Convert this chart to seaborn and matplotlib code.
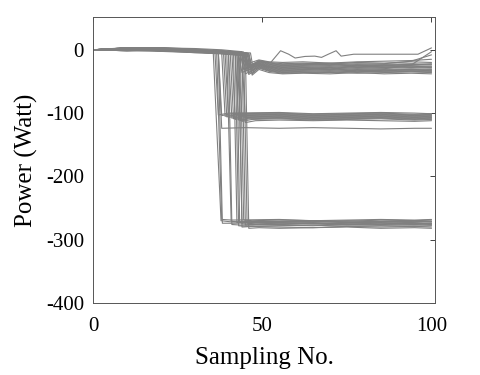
import numpy as np
import pandas as pd
import matplotlib
matplotlib.use("Agg")
import matplotlib.pyplot as plt
import seaborn as sns

# ---------------- data ----------------
# Group settling near -20 .. -40 W : (x vertices, y vertices)
group_small = [
    ([0, 10, 20, 30, 38, 44, 45, 49, 52, 56, 62, 70, 78, 86, 94, 100],
     [0, 3.5, 3, 2, 0, -3, -23, -16, -19, -20, -19, -21, -19, -18, -17, -15]),
    ([0, 10, 20, 30, 38, 45, 46, 49, 52, 56, 62, 70, 78, 86, 94, 100],
     [0, 2, 3.5, 1, -2, -5, -26, -17, -20, -22, -21, -22, -20, -21, -19, -20]),
    ([0, 10, 20, 30, 38, 44.5, 45.5, 49, 52, 56, 62, 70, 78, 86, 94, 100],
     [0, 1, 0, -1.5, -2.5, -4, -27, -18, -21, -23, -22, -21, -23, -22, -18, -8]),
    ([0, 10, 20, 30, 38, 46, 47, 49, 52, 56, 62, 70, 78, 86, 94, 100],
     [0, 2.5, 1.5, -2.5, -4, -6, -29, -18, -22, -24, -23, -24, -22, -23, -22, -23]),
    ([0, 10, 20, 30, 38, 45.5, 46.5, 49, 52, 56, 62, 70, 78, 86, 94, 100],
     [0, 1.5, 2.5, 0, -1.5, -5, -30, -19, -23, -25, -24, -23, -25, -24, -23, -24]),
    ([0, 10, 20, 30, 38, 43.5, 44.5, 49, 52, 56, 62, 70, 78, 86, 94, 100],
     [0, -1.5, 1, -2.5, -5, -7, -31, -20, -24, -26, -25, -26, -24, -25, -24, -22]),
    ([0, 10, 20, 30, 38, 44, 45, 49, 52, 56, 62, 70, 78, 86, 94, 100],
     [0, 3, 0.5, -2, -3, -5, -31, -21, -25, -27, -26, -25, -27, -26, -25, -26]),
    ([0, 10, 20, 30, 38, 45, 46, 49, 52, 56, 62, 70, 78, 86, 94, 100],
     [0, 0, 1.5, -1, -3.5, -6, -32, -22, -26, -28, -27, -28, -26, -27, -26, -27]),
    ([0, 10, 20, 30, 38, 46, 47, 49, 52, 56, 62, 70, 78, 86, 94, 100],
     [0, 1.5, -1.5, -3.5, -5, -8, -33, -22, -27, -29, -28, -27, -29, -28, -27, -28]),
    ([0, 10, 20, 30, 38, 44.5, 45.5, 49, 52, 56, 62, 70, 78, 86, 94, 100],
     [0, 2.5, 2.5, 0.5, -2, -4, -34, -23, -27, -30, -29, -30, -28, -29, -28, -29]),
    ([0, 10, 20, 30, 38, 45.5, 46.5, 49, 52, 56, 62, 70, 78, 86, 94, 100],
     [0, 0.5, -1.5, -2.5, -4.5, -6, -35, -24, -28, -31, -30, -29, -31, -30, -24, -3]),
    ([0, 10, 20, 30, 38, 43, 44, 49, 52, 56, 62, 70, 78, 86, 94, 100],
     [0, 1.5, 0, -3.5, -6, -8, -36, -24, -29, -32, -31, -32, -30, -31, -30, -31]),
    ([0, 10, 20, 30, 38, 46.5, 47.5, 49, 52, 56, 62, 70, 78, 86, 94, 100],
     [0, 2.5, 1.5, -1, -2.5, -5, -36, -25, -30, -33, -32, -31, -33, -32, -31, -32]),
    ([0, 10, 20, 30, 38, 45, 46, 49, 52, 56, 62, 70, 78, 86, 94, 100],
     [0, -1.5, -2.5, -4.5, -5.5, -9, -37, -26, -31, -34, -33, -34, -32, -33, -32, -33]),
    ([0, 10, 20, 30, 38, 44, 45, 49, 52, 56, 62, 70, 78, 86, 94, 100],
     [0, 1.5, 0.5, -2.5, -4.5, -7, -38, -27, -32, -35, -34, -33, -35, -34, -33, -34]),
    ([0, 10, 20, 30, 38, 46, 47, 49, 52, 56, 62, 70, 78, 86, 94, 100],
     [0, 0.5, 1.5, -2, -3.5, -6, -38, -28, -33, -36, -35, -36, -34, -35, -34, -35]),
    ([0, 10, 20, 30, 38, 45, 46, 49, 52, 56, 62, 70, 78, 86, 94, 100],
     [0, 3, 0, -3.5, -4.5, -7, -39, -29, -34, -37, -36, -35, -37, -36, -35, -36]),
    ([0, 10, 20, 30, 38, 46, 47, 49, 52, 56, 62, 70, 78, 86, 94, 100],
     [0, 1.5, -1.5, -4.5, -6.5, -10, -40, -31, -36, -38, -37, -38, -36, -38, -37, -38]),
]

# The single wandering line that climbs back towards 0 after sample 53
outlier_x = [0, 10, 20, 30, 38, 45, 46, 49, 52.5, 55.4, 57.8, 59.7, 62.6, 65.5,
             67.5, 69.5, 71.8, 73.3, 77, 85, 96, 100]
outlier_y = [0, 2, 1, -1.5, -3, -5, -27, -19, -20, -1.5, -7, -13, -10.5, -10,
             -12, -7, -1.5, -10, -7, -7, -7, 3]

# Group settling near -100 .. -125 W
group_mid = [
    ([0, 10, 20, 30, 36, 37, 40, 55, 65, 75, 85, 95, 100],
     [0, 1.5, 0.5, -2, -4, -103, -100, -99, -101, -100, -99, -100, -101]),
    ([0, 10, 20, 30, 37, 38, 41, 55, 65, 75, 85, 95, 100],
     [0, 3, 1.5, -1, -3, -104, -101, -100, -102, -101, -100, -102, -101]),
    ([0, 10, 20, 30, 38, 39, 42, 55, 65, 75, 85, 95, 100],
     [0, 0, -1.5, -2.5, -5, -105, -102, -101, -103, -102, -101, -103, -102]),
    ([0, 10, 20, 30, 38.5, 39.5, 42, 55, 65, 75, 85, 95, 100],
     [0, 2.5, 2.5, 0.5, -2, -106, -103, -102, -104, -103, -102, -104, -103]),
    ([0, 10, 20, 30, 39, 40, 43, 55, 65, 75, 85, 95, 100],
     [0, 1.5, 0, -3.5, -5, -107, -104, -103, -105, -104, -103, -105, -104]),
    ([0, 10, 20, 30, 40, 41, 44, 55, 65, 75, 85, 95, 100],
     [0, 0, 1.5, -1, -6, -108, -105, -104, -106, -105, -104, -106, -105]),
    ([0, 10, 20, 30, 40.5, 41.5, 44, 55, 65, 75, 85, 95, 100],
     [0, 3, 0.5, -2, -4, -109, -106, -105, -107, -106, -105, -107, -106]),
    ([0, 10, 20, 30, 41, 42, 45, 55, 65, 75, 85, 95, 100],
     [0, 1.5, 1.5, -2.5, -3.5, -110, -107, -106, -108, -107, -106, -108, -107]),
    ([0, 10, 20, 30, 42, 43, 46, 55, 65, 75, 85, 95, 100],
     [0, -1.5, 0, -3.5, -7, -111, -108, -107, -109, -108, -107, -109, -108]),
    ([0, 10, 20, 30, 42.5, 43.5, 46, 55, 65, 75, 85, 95, 100],
     [0, 2.5, 1.5, 0, -4, -112, -109, -108, -110, -109, -108, -110, -109]),
    ([0, 10, 20, 30, 43, 44, 47, 55, 65, 75, 85, 95, 100],
     [0, 1.5, -1.5, -2.5, -6, -113, -110, -109, -111, -110, -109, -111, -110]),
    ([0, 10, 20, 30, 44, 45, 48, 55, 65, 75, 85, 95, 100],
     [0, 0, 0.5, -3.5, -7, -115, -112, -111, -112, -111, -112, -113, -112]),
    ([0, 10, 20, 30, 37, 38, 45, 55, 65, 75, 85, 95, 100],
     [0, 1.5, 0, -2, -4, -124, -123, -124, -123, -124, -125, -124, -124]),
]

# Group settling near -270 .. -282 W
group_large = [
    ([0, 10, 20, 30, 35.5, 37.8, 41, 55, 65, 75, 85, 95, 100],
     [0, 2.5, 1.5, -2, -4, -270, -272, -271, -272, -270, -271, -272, -271]),
    ([0, 10, 20, 30, 36.5, 38, 41, 55, 65, 75, 85, 95, 100],
     [0, 1.5, 3, 0.5, -3, -268, -269, -268, -270, -269, -268, -269, -268]),
    ([0, 10, 20, 30, 37, 38.2, 41, 55, 65, 75, 85, 95, 100],
     [0, 0, -1.5, -2.5, -5, -274, -274, -273, -275, -274, -273, -275, -274]),
    ([0, 10, 20, 30, 39.5, 40.8, 43, 55, 65, 75, 85, 95, 100],
     [0, 3, 0.5, -1, -4, -271, -272, -271, -270, -272, -271, -270, -271]),
    ([0, 10, 20, 30, 40, 41, 44, 55, 65, 75, 85, 95, 100],
     [0, 1.5, 1.5, -3.5, -6, -276, -277, -276, -275, -277, -276, -277, -276]),
    ([0, 10, 20, 30, 41.5, 42.5, 45, 55, 65, 75, 85, 95, 100],
     [0, -1.5, 0, -2.5, -4, -273, -272, -273, -274, -273, -272, -273, -274]),
    ([0, 10, 20, 30, 42, 43, 46, 55, 65, 75, 85, 95, 100],
     [0, 3, 1.5, 0, -3, -278, -279, -278, -277, -279, -278, -279, -278]),
    ([0, 10, 20, 30, 42.5, 43.3, 46, 55, 65, 75, 85, 95, 100],
     [0, 1.5, 0, -3.5, -5, -272, -273, -272, -271, -273, -272, -271, -272]),
    ([0, 10, 20, 30, 43, 44, 47, 55, 65, 75, 85, 95, 100],
     [0, 0, 2.5, -1, -4, -275, -276, -275, -274, -276, -275, -274, -275]),
    ([0, 10, 20, 30, 43, 44, 47, 55, 65, 75, 85, 95, 100],
     [0, 2.5, 1.5, -2.5, -6, -280, -279, -280, -281, -279, -280, -279, -280]),
    ([0, 10, 20, 30, 43.5, 44.5, 47, 55, 65, 75, 85, 95, 100],
     [0, 1.5, -1.5, -2.5, -4, -269, -270, -269, -270, -271, -269, -270, -269]),
    ([0, 10, 20, 30, 44, 45, 48, 55, 65, 75, 85, 95, 100],
     [0, 0, 1.5, -1, -5, -277, -276, -277, -278, -276, -277, -276, -277]),
    ([0, 10, 20, 30, 44.5, 45.5, 48, 55, 65, 75, 85, 95, 100],
     [0, 2.5, 0, -3.5, -4, -274, -275, -274, -273, -275, -274, -275, -274]),
    ([0, 10, 20, 30, 45, 46, 49, 55, 65, 75, 85, 95, 100],
     [0, 1.5, 1.5, -2.5, -7, -282, -281, -282, -281, -280, -282, -281, -282]),
]

x_ticks = [0, 50, 100]
y_ticks = [-400, -300, -200, -100, 0]

# ---------------- build long table ----------------
rows = []
line_id = 0
for group in (group_small, group_mid, group_large):
    for xs, ys in group:
        for xv, yv in zip(xs, ys):
            rows.append((line_id, xv, yv))
        line_id += 1
for xv, yv in zip(outlier_x, outlier_y):
    rows.append((line_id, xv, yv))
df = pd.DataFrame(rows, columns=["line", "x", "y"])

# ---------------- plot ----------------
sns.set_theme(style="white")
plt.rcParams["font.family"] = ["Liberation Serif", "DejaVu Serif"]
plt.rcParams["axes.unicode_minus"] = False

fig = plt.figure(figsize=(4.8, 3.75), dpi=100)
ax = fig.add_axes([0.194, 0.192, 0.712, 0.763])

sns.lineplot(data=df, x="x", y="y", units="line", estimator=None, sort=False,
             color="#808080", linewidth=0.8, legend=False, ax=ax)

ax.set_xlim(0, 101)
ax.set_ylim(-400, 52)
ax.set_xticks(x_ticks)
ax.set_yticks(y_ticks)
ax.set_xticklabels([str(v) for v in x_ticks])
ax.set_yticklabels([str(v) for v in y_ticks])
ax.tick_params(direction="in", length=3.5, width=0.6, top=True, right=True,
               labelsize=15, colors="#222222", labelcolor="black")
ax.tick_params(axis="x", pad=10)
ax.tick_params(axis="y", pad=6.5)
for s in ax.spines.values():
    s.set_color("#555555")
    s.set_linewidth(0.7)

ax.set_xlabel("Sampling No.", fontsize=18, color="black", labelpad=8)
ax.set_ylabel("Power (Watt)", fontsize=18, color="black", labelpad=6)

fig.savefig("out.png", dpi=100)
